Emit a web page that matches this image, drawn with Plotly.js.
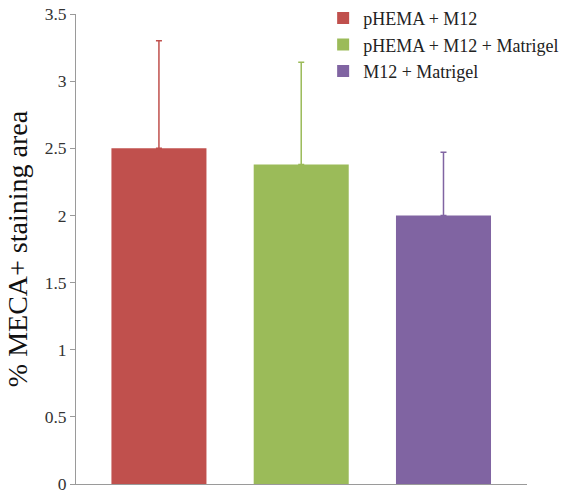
<!DOCTYPE html>
<html>
<head>
<meta charset="utf-8">
<script src="https://cdn.plot.ly/plotly-3.0.1.min.js"></script>
<style>html,body{margin:0;padding:0;background:#fff;}#chart{width:569px;height:493px;}</style>
</head>
<body>
<div id="chart"></div>
<script>
const seriesNames = ["pHEMA + M12", "pHEMA + M12 + Matrigel", "M12 + Matrigel"];
const categories = ["A", "B", "C"];
const values = [2.5, 2.38, 2.0];
const errors = [0.80, 0.76, 0.47];
const colors = ["#c0504d", "#9bbb59", "#8064a2"];
const yTicks = [0, 0.5, 1, 1.5, 2, 2.5, 3, 3.5];
const yTickLabels = ["0", "0.5", "1", "1.5", "2", "2.5", "3", "3.5"];

const FAM = "'Liberation Serif', 'Times New Roman', serif";

const traces = seriesNames.map((name, i) => ({
  type: "bar",
  name: name,
  x: [i],
  y: [values[i]],
  marker: {color: colors[i]},
  error_y: {type: "data", symmetric: false, array: [errors[i]], arrayminus: [0], color: colors[i], thickness: 1.5, width: 3},
  width: 0.668
}));

const layout = {
  width: 569, height: 493,
  margin: {l: 76, r: 42, t: 14, b: 9, autoexpand: false},
  paper_bgcolor: "#fff", plot_bgcolor: "#fff",
  font: {family: FAM, color: "#222", size: 16},
  barmode: "overlay",
  showlegend: true,
  legend: {x: 0.548, y: 1.03, xanchor: "left", yanchor: "top", font: {family: FAM, size: 18, color: "#222"}, itemwidth: 30, tracegroupgap: 0, bgcolor: "rgba(0,0,0,0)"},
  xaxis: {type: "linear", tickvals: [0, 1, 2], ticktext: categories, showticklabels: false, showline: true, linecolor: "#9a9a9a", linewidth: 1, ticks: "", showgrid: false, zeroline: false, range: [-0.583, 2.587]},
  yaxis: {range: [0, 3.5], tickvals: yTicks, ticktext: yTickLabels, showline: true, linecolor: "#9a9a9a", linewidth: 1, ticks: "outside", ticklen: 5, tickcolor: "#9a9a9a", showgrid: false, zeroline: false, ticklabeloverflow: "allow",
    tickfont: {family: FAM, size: 17.5, color: "#333"},
    title: {text: "% MECA+ staining area", font: {family: FAM, size: 28, color: "#111"}, standoff: 8}}
};

Plotly.newPlot("chart", traces, layout, {displayModeBar: false, staticPlot: true});
</script>
</body>
</html>
